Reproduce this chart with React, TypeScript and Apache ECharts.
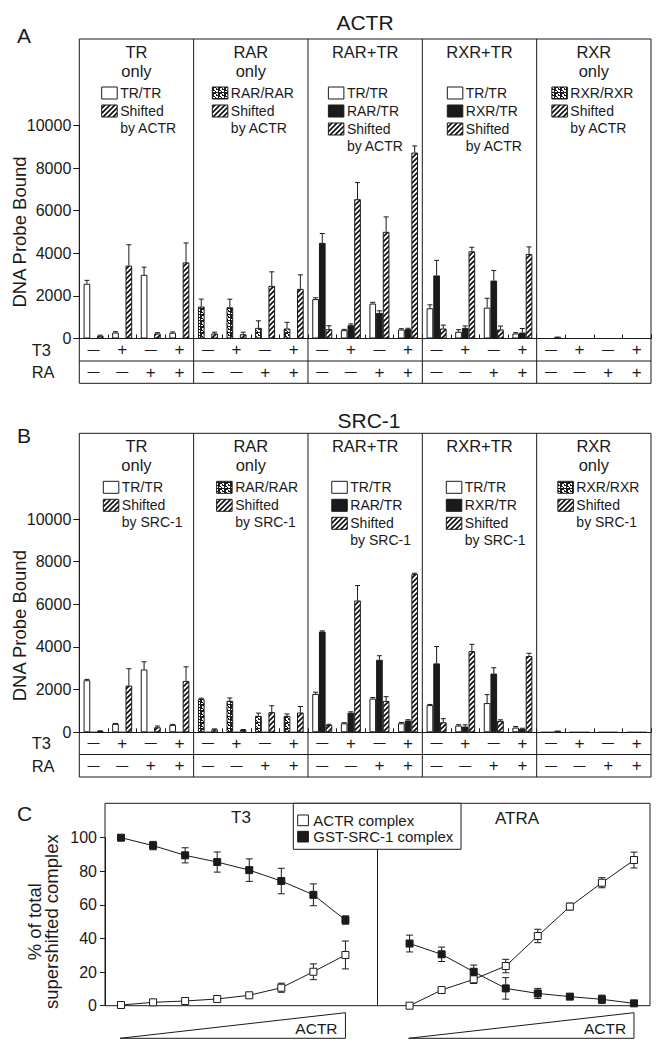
import React, { useEffect, useRef } from 'react';
import * as echarts from 'echarts';

// ---------------- data: panels A and B ----------------
const panelNames = [['TR', 'only'], ['RAR', 'only'], ['RAR+TR'], ['RXR+TR'], ['RXR', 'only']];
const t3Row = ['—', '+', '—', '+'];
const raRow = ['—', '—', '+', '+'];
const categories = panelNames.flatMap((p) => t3Row.map((t, c) => `${p.join(' ')} T3${t} RA${raRow[c]}`));
const legendLabels = [
  ['TR/TR', 'Shifted'],
  ['RAR/RAR', 'Shifted'],
  ['TR/TR', 'RAR/TR', 'Shifted'],
  ['TR/TR', 'RXR/TR', 'Shifted'],
  ['RXR/RXR', 'Shifted'],
];
const legendKinds = [
  ['white', 'hatch'],
  ['dotted', 'hatch'],
  ['white', 'black', 'hatch'],
  ['white', 'black', 'hatch'],
  ['dotted', 'hatch'],
];
const firstSlotKind = ['white', 'dotted', 'white', 'white', 'dotted'];

// ACTR (panel A)
const actrFree = [2570, 280, 2990, 270, 1500, 1465, 500, 470, 1850, 390, 1640, 420, 1420, 315, 1450, 235, 0, 0, 0, 0];
const actrFreeErr = [160, 40, 360, 40, 350, 380, 330, 290, 60, 40, 60, 40, 160, 100, 440, 40, 0, 0, 0, 0];
const actrHetero = [0, 0, 0, 0, 0, 0, 0, 0, 4490, 625, 1200, 440, 2960, 500, 2720, 280, 0, 0, 0, 0];
const actrHeteroErr = [0, 0, 0, 0, 0, 0, 0, 0, 440, 60, 100, 40, 710, 90, 470, 190, 0, 0, 0, 0];
const actrShifted = [125, 3420, 235, 3575, 235, 200, 2470, 2330, 440, 6540, 5010, 8730, 470, 4095, 425, 3970, 90, 0, 0, 0];
const actrShiftedErr = [30, 980, 40, 910, 60, 100, 660, 660, 160, 780, 700, 310, 160, 190, 160, 330, 0, 0, 0, 0];

// SRC-1 (panel B)
const srcFree = [2440, 395, 2945, 350, 1560, 1480, 770, 770, 1800, 420, 1580, 420, 1275, 315, 1370, 220, 0, 0, 0, 0];
const srcFreeErr = [40, 20, 360, 20, 40, 130, 130, 90, 80, 30, 50, 40, 30, 40, 395, 50, 0, 0, 0, 0];
const srcHetero = [0, 0, 0, 0, 0, 0, 0, 0, 4725, 920, 3400, 550, 3230, 270, 2755, 160, 0, 0, 0, 0];
const srcHeteroErr = [0, 0, 0, 0, 0, 0, 0, 0, 30, 40, 190, 40, 790, 80, 270, 30, 0, 0, 0, 0];
const srcShifted = [60, 2190, 235, 2410, 140, 110, 945, 930, 345, 6180, 1470, 7420, 470, 3810, 535, 3575, 80, 0, 0, 0];
const srcShiftedErr = [10, 790, 60, 660, 20, 20, 300, 280, 30, 700, 200, 40, 170, 315, 50, 130, 0, 0, 0, 0];

const yTicksAB = [0, 10000, 2000];

// ---------------- data: panel C ----------------
const doseCount = 8;
const t3Actr = [0.4, 2, 2.8, 4, 6.2, 10.7, 20.2, 30.2];
const t3ActrErr = [0.5, 0.5, 0.6, 0.6, 0.8, 2.7, 4.7, 8.3];
const t3Src = [100, 95.3, 89.5, 85.5, 80.7, 74.2, 66, 51];
const t3SrcErr = [1, 2.5, 4.5, 6, 6.7, 7.6, 6.5, 2.5];
const atraActr = [0, 9.3, 15.7, 23.6, 41.5, 59, 73.2, 86.7];
const atraActrErr = [0.3, 0.6, 2.5, 4, 4, 2, 3, 4.7];
const atraSrc = [37, 30.6, 20.2, 10.3, 7.3, 5.4, 3.8, 1.4];
const atraSrcErr = [5, 4.3, 4, 6.4, 3, 1, 2.5, 0.5];
const yTicksC = [0, 100, 20];

// ---------------- layout ----------------
const FONT = '"Liberation Sans", Arial, Helvetica, sans-serif';
const INK = '#1a1a1a';
const AB_LEFT = 79.3;
const AB_WIDTH = 571.7;
const LAY_A = { boxTop: 39, ten: 125.5, zero: 338.5, rowMid: 361, bottom: 383.3, title: 22.5, letter: 35.5, titleX: 365 };
const LAY_B = { boxTop: 433.3, ten: 519, zero: 732.3, rowMid: 754.5, bottom: 777, title: 420.3, letter: 435, titleX: 369 };
const LEG_OFF_A = [22.4, 18.7, 20.4, 25, 15.2];
const LEG_OFF_B = [24, 23, 23.8, 24, 21.2];
const C_LEFT = 105;
const C_WIDTH = 545;
const C_TOP = 803.3;
const C_100 = 837.7;
const C_ZERO = 1005.7;
const C_SLOTS = 17;

function makePatterns() {
  const hatch = document.createElement('canvas');
  hatch.width = 5;
  hatch.height = 5;
  const g = hatch.getContext('2d')!;
  g.fillStyle = '#fff';
  g.fillRect(0, 0, 5, 5);
  g.strokeStyle = '#111';
  g.lineWidth = 1.7;
  g.beginPath();
  g.moveTo(-1, 6);
  g.lineTo(6, -1);
  g.moveTo(-1, 1);
  g.lineTo(1, -1);
  g.moveTo(4, 6);
  g.lineTo(6, 4);
  g.stroke();

  const dot = document.createElement('canvas');
  dot.width = 6;
  dot.height = 6;
  const d = dot.getContext('2d')!;
  d.fillStyle = '#1a1a1a';
  d.fillRect(0, 0, 6, 6);
  d.fillStyle = '#fff';
  d.fillRect(0, 0, 2, 2);
  d.fillRect(3, 1, 2, 1);
  d.fillRect(1, 3, 1, 2);
  d.fillRect(4, 4, 2, 2);
  d.fillRect(5, 0, 1, 1);
  d.fillRect(0, 3, 1, 1);
  return {
    hatch: { image: hatch, repeat: 'repeat', imageWidth: 5, imageHeight: 5 },
    dotted: { image: dot, repeat: 'repeat', imageWidth: 6, imageHeight: 6 },
  };
}

function buildOption() {
  const pat = makePatterns();
  const styles: any = {
    white: { color: '#fff', borderColor: INK, borderWidth: 1 },
    black: { color: INK, borderColor: INK, borderWidth: 1 },
    hatch: { color: pat.hatch, borderColor: INK, borderWidth: 1 },
    dotted: { color: pat.dotted, borderColor: INK, borderWidth: 1 },
  };

  const txt = (x: number, y: number, s: string, size: number, align: string, extra: any = {}) => ({
    type: 'text',
    x,
    y,
    silent: true,
    style: {
      text: s,
      fontSize: size,
      fontFamily: FONT,
      fill: INK,
      align,
      textAlign: align,
      verticalAlign: 'middle',
      textVerticalAlign: 'middle',
      ...extra,
    },
  });
  const ln = (x1: number, y1: number, x2: number, y2: number) => ({
    type: 'line',
    silent: true,
    shape: { x1, y1, x2, y2 },
    style: { stroke: INK, lineWidth: 1 },
  });
  const swatch = (x: number, y: number, kind: string, w = 15.5, h = 12) => ({
    type: 'rect',
    silent: true,
    shape: { x, y, width: w, height: h },
    style: { fill: styles[kind].color, stroke: INK, lineWidth: 1 },
  });

  const panelGraphics = (L: any, byText: string, offs: number[], title: string, letter: string) => {
    const els: any[] = [];
    const pw = AB_WIDTH / 5;
    const cw = AB_WIDTH / 20;
    els.push({
      type: 'rect',
      silent: true,
      shape: { x: AB_LEFT, y: L.boxTop, width: AB_WIDTH, height: L.bottom - L.boxTop },
      style: { fill: 'none', stroke: INK, lineWidth: 1 },
    });
    for (let k = 1; k < 5; k++) els.push(ln(AB_LEFT + k * pw, L.boxTop, AB_LEFT + k * pw, L.bottom));
    els.push(ln(AB_LEFT, L.rowMid, AB_LEFT + AB_WIDTH, L.rowMid));
    els.push(txt(L.titleX, L.title, title, 21, 'center'));
    els.push(txt(17, L.letter, letter, 21, 'left'));
    const r1 = (L.zero + L.rowMid) / 2;
    const r2 = (L.rowMid + L.bottom) / 2;
    els.push(txt(31.7, r1, 'T3', 16.5, 'left'));
    els.push(txt(31.7, r2, 'RA', 16.5, 'left'));
    for (let i = 0; i < 20; i++) {
      const cx = AB_LEFT + (i + 0.5) * cw;
      const a = t3Row[i % 4];
      const b = raRow[i % 4];
      els.push(txt(cx, r1, a, a === '+' ? 17 : 12, 'center'));
      els.push(txt(cx, r2, b, b === '+' ? 17 : 12, 'center'));
    }
    panelNames.forEach((lines, p) => {
      const cx = AB_LEFT + (p + 0.5) * pw;
      lines.forEach((s, j) => els.push(txt(cx, L.boxTop + 13 + j * 18.5, s, 16.5, 'center')));
      const sx = AB_LEFT + p * pw + offs[p];
      const kinds = legendKinds[p];
      kinds.forEach((k, j) => {
        const cy = L.boxTop + 54 + j * 18;
        els.push(swatch(sx, cy - 6, k));
        els.push(txt(sx + 18.5, cy, legendLabels[p][j], 14, 'left'));
      });
      els.push(txt(sx + 18.5, L.boxTop + 54 + (kinds.length - 1) * 18 + 16.5, byText, 14, 'left'));
    });
    return els;
  };

  const errBarSeries = (vals: number[], errs: number[], slot: number, gi: number) => ({
    type: 'custom',
    xAxisIndex: gi,
    yAxisIndex: gi,
    silent: true,
    z: 3,
    encode: { x: 0, y: 1 },
    data: vals.map((v, i) => [i, v, errs[i]]),
    renderItem: (params: any, api: any) => {
      const e = api.value(2);
      if (!e) return null;
      const i = api.value(0);
      const v = api.value(1);
      const bw = (api.size([1, 0])[0] * 0.7) / 3;
      const base = api.coord([i, v]);
      const top = api.coord([i, v + e]);
      const x = base[0] + slot * bw;
      return {
        type: 'group',
        children: [
          { type: 'line', shape: { x1: x, y1: base[1], x2: x, y2: top[1] }, style: { stroke: INK, lineWidth: 1 } },
          { type: 'line', shape: { x1: x - 2.5, y1: top[1], x2: x + 2.5, y2: top[1] }, style: { stroke: INK, lineWidth: 1 } },
        ],
      };
    },
  });

  const barSet = (tag: string, free: number[], freeErr: number[], het: number[], hetErr: number[], sh: number[], shErr: number[], gi: number) => {
    const common = { type: 'bar', xAxisIndex: gi, yAxisIndex: gi, barGap: '0%', barCategoryGap: '30%', silent: true, z: 2 };
    return [
      {
        ...common,
        name: tag + ' free',
        data: free.map((v, i) => ({ value: v, itemStyle: styles[firstSlotKind[Math.floor(i / 4)]] })),
      },
      { ...common, name: tag + ' heterodimer', data: het, itemStyle: styles.black },
      { ...common, name: tag + ' shifted', data: sh, itemStyle: styles.hatch },
      errBarSeries(free, freeErr, -1, gi),
      errBarSeries(het, hetErr, 0, gi),
      errBarSeries(sh, shErr, 1, gi),
    ];
  };

  // panel C helpers
  const slotW = C_WIDTH / C_SLOTS;
  const cx = (s: number) => C_LEFT + s * slotW;
  const t3X = (i: number) => i + 0.5;
  const atraX = (i: number) => doseCount + 1 + i + 0.5;

  const lineSeries = (name: string, vals: number[], xf: (i: number) => number, filled: boolean) => ({
    type: 'line',
    name,
    xAxisIndex: 2,
    yAxisIndex: 2,
    silent: true,
    z: 4,
    symbol: 'rect',
    symbolSize: 7,
    data: vals.map((v, i) => [xf(i), v]),
    lineStyle: { color: INK, width: 1 },
    itemStyle: filled ? { color: INK, borderColor: INK, borderWidth: 1 } : { color: '#fff', borderColor: INK, borderWidth: 1 },
  });
  const cErr = (vals: number[], errs: number[], xf: (i: number) => number) => ({
    type: 'custom',
    xAxisIndex: 2,
    yAxisIndex: 2,
    silent: true,
    z: 3,
    encode: { x: 0, y: 1 },
    data: vals.map((v, i) => [xf(i), v, errs[i]]),
    renderItem: (params: any, api: any) => {
      const x = api.value(0);
      const v = api.value(1);
      const e = api.value(2);
      const lo = api.coord([x, v - e]);
      const hi = api.coord([x, v + e]);
      const st = { stroke: INK, lineWidth: 1 };
      return {
        type: 'group',
        children: [
          { type: 'line', shape: { x1: lo[0], y1: lo[1], x2: hi[0], y2: hi[1] }, style: st },
          { type: 'line', shape: { x1: lo[0] - 3.5, y1: lo[1], x2: lo[0] + 3.5, y2: lo[1] }, style: st },
          { type: 'line', shape: { x1: hi[0] - 3.5, y1: hi[1], x2: hi[0] + 3.5, y2: hi[1] }, style: st },
        ],
      };
    },
  });

  const cGraphics: any[] = [];
  cGraphics.push({
    type: 'rect',
    silent: true,
    shape: { x: C_LEFT, y: C_TOP, width: C_WIDTH, height: C_ZERO - C_TOP },
    style: { fill: 'none', stroke: INK, lineWidth: 1 },
  });
  const divX = cx(doseCount + 0.5);
  cGraphics.push(ln(divX, 849.3, divX, C_ZERO));
  cGraphics.push({
    type: 'rect',
    silent: true,
    z: 10,
    shape: { x: 293.3, y: C_TOP, width: 167.7, height: 46 },
    style: { fill: '#fff', stroke: INK, lineWidth: 1 },
  });
  cGraphics.push({ ...swatch(297.7, 815, 'white', 10.7, 10.7), z: 11 });
  cGraphics.push({ ...swatch(297.7, 831.3, 'black', 10.7, 10.7), z: 11 });
  cGraphics.push({ ...txt(313.3, 820.3, 'ACTR complex', 15, 'left'), z: 11 });
  cGraphics.push({ ...txt(313.3, 836.7, 'GST-SRC-1 complex', 15, 'left'), z: 11 });
  cGraphics.push(txt(241, 817.7, 'T3', 17, 'center'));
  cGraphics.push(txt(517, 818, 'ATRA', 17, 'center'));
  cGraphics.push(txt(17, 813.7, 'C', 21, 'left'));
  [t3X, atraX].forEach((xf) => {
    const x0 = cx(xf(0)) - 1;
    const x1 = cx(xf(doseCount - 1));
    cGraphics.push({
      type: 'polygon',
      silent: true,
      shape: { points: [[x0, 1038.3], [x1, 1012.7], [x1, 1038.3]] },
      style: { fill: 'none', stroke: INK, lineWidth: 1 },
    });
    cGraphics.push(txt(x1 - 29, 1028, 'ACTR', 15.5, 'center'));
  });

  const abY = (gi: number) => ({
    gridIndex: gi,
    type: 'value',
    min: yTicksAB[0],
    max: yTicksAB[1],
    interval: yTicksAB[2],
    axisLine: { show: true, lineStyle: { color: INK, width: 1 } },
    axisTick: { show: true, length: 6, lineStyle: { color: INK, width: 1 } },
    axisLabel: { fontSize: 16, color: INK, margin: 8, fontFamily: FONT, formatter: (v: number) => String(v) },
    splitLine: { show: false },
    name: 'DNA Probe Bound',
    nameLocation: 'middle',
    nameGap: 50,
    nameMoveOverlap: false,
    nameTextStyle: { fontSize: 18.5, color: INK, fontFamily: FONT },
  });
  const abX = (gi: number) => ({
    gridIndex: gi,
    type: 'category',
    data: categories,
    axisLine: { show: true, lineStyle: { color: INK, width: 1 } },
    axisTick: { show: true, inside: true, length: 4, interval: 0, lineStyle: { color: INK, width: 1 } },
    axisLabel: { show: false },
    splitLine: { show: false },
  });

  const gridBase = { containLabel: false, outerBoundsMode: 'none' };

  return {
    animation: false,
    backgroundColor: '#fff',
    grid: [
      { ...gridBase, left: AB_LEFT, top: LAY_A.ten, width: AB_WIDTH, height: LAY_A.zero - LAY_A.ten },
      { ...gridBase, left: AB_LEFT, top: LAY_B.ten, width: AB_WIDTH, height: LAY_B.zero - LAY_B.ten },
      { ...gridBase, left: C_LEFT, top: C_100, width: C_WIDTH, height: C_ZERO - C_100 },
    ],
    xAxis: [
      abX(0),
      abX(1),
      { gridIndex: 2, type: 'value', min: 0, max: C_SLOTS, show: false },
    ],
    yAxis: [
      abY(0),
      abY(1),
      {
        gridIndex: 2,
        type: 'value',
        min: yTicksC[0],
        max: yTicksC[1],
        interval: yTicksC[2],
        axisLine: { show: true, lineStyle: { color: INK, width: 1 } },
        axisTick: { show: true, length: 5, lineStyle: { color: INK, width: 1 } },
        axisLabel: { fontSize: 16, color: INK, margin: 8, fontFamily: FONT },
        splitLine: { show: false },
        name: '% of total\nsupershifted complex',
        nameLocation: 'middle',
        nameGap: 45,
        nameMoveOverlap: false,
        nameTextStyle: { fontSize: 18.5, lineHeight: 17, color: INK, fontFamily: FONT, align: 'center' },
      },
    ],
    series: [
      ...barSet('ACTR', actrFree, actrFreeErr, actrHetero, actrHeteroErr, actrShifted, actrShiftedErr, 0),
      ...barSet('SRC-1', srcFree, srcFreeErr, srcHetero, srcHeteroErr, srcShifted, srcShiftedErr, 1),
      cErr(t3Actr, t3ActrErr, t3X),
      cErr(t3Src, t3SrcErr, t3X),
      cErr(atraActr, atraActrErr, atraX),
      cErr(atraSrc, atraSrcErr, atraX),
      lineSeries('ACTR complex', t3Actr, t3X, false),
      lineSeries('GST-SRC-1 complex', t3Src, t3X, true),
      lineSeries('ACTR complex', atraActr, atraX, false),
      lineSeries('GST-SRC-1 complex', atraSrc, atraX, true),
    ],
    graphic: [
      ...panelGraphics(LAY_A, 'by ACTR', LEG_OFF_A, 'ACTR', 'A'),
      ...panelGraphics(LAY_B, 'by SRC-1', LEG_OFF_B, 'SRC-1', 'B'),
      ...cGraphics,
    ],
  };
}

export default function App() {
  const ref = useRef<HTMLDivElement>(null);
  useEffect(() => {
    if (!ref.current) return;
    const chart = echarts.init(ref.current, null, { renderer: 'svg' });
    chart.setOption(buildOption() as any);
    return () => chart.dispose();
  }, []);
  return (
    <div
      ref={ref}
      style={{ position: 'fixed', left: 0, top: 0, width: 663, height: 1050, background: '#fff' }}
    />
  );
}
